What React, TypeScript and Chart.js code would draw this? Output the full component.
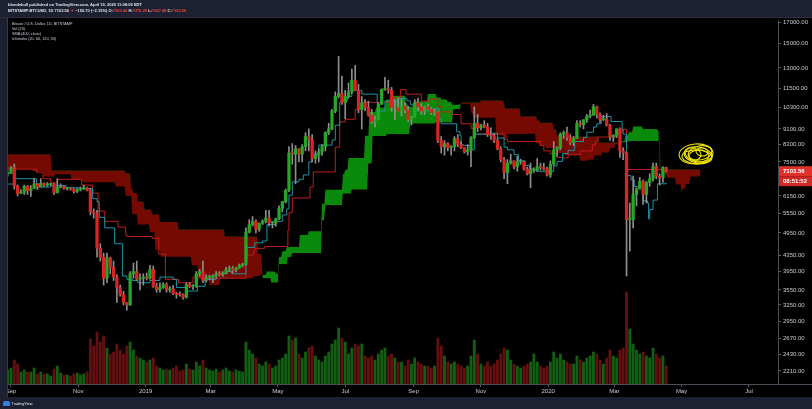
import React, { useEffect, useRef } from 'react';
import { Chart, registerables } from 'chart.js';

Chart.register(...registerables);

// ---- time axis: day 0 = Sep 1, 2018 ----
const firstCandleDay = -3; // Aug 29, 2018
const candleStepDays = 3;
const firstOpen = 6990;

const highs = [
  7120, 7300, 7410, 6560, 6380, 6550, 6530, 6530, 6800, 6620, 6800, 6640, 6650, 6620, 6620, 6800, 6600, 6520, 6460, 6440,
  6420, 6420, 6480, 6550, 6470, 6410, 5700, 5650, 4650, 4400, 4400, 4300, 4200, 3880, 3650, 3520, 3300, 3950, 4150, 4200,
  3900, 3900, 3920, 4100, 4080, 3690, 3700, 3700, 3700, 3620, 3640, 3500, 3510, 3470, 3700, 3700, 3660, 3950, 4000, 4200,
  3880, 3870, 3880, 3950, 3950, 3950, 4050, 4080, 4070, 4050, 4130, 4150, 5100, 5350, 5450, 5350, 5250, 5350, 5650, 5650,
  5300, 5400, 5800, 5950, 6400, 8200, 8350, 8260, 8100, 8300, 8900, 9100, 8800, 8000, 8100, 8300, 8950, 9400, 10200, 11300,
  13900, 12400, 11400, 11900, 12900, 13200, 11800, 11000, 10800, 10700, 10200, 9800, 10600, 11500, 12300, 12100, 11600, 10800, 10900, 10800,
  10600, 10400, 9800, 10800, 10900, 10550, 10400, 10500, 10300, 10200, 10100, 8700, 8500, 8400, 8250, 8700, 8800, 8450, 8150, 8300,
  8700, 10350, 9900, 9350, 9550, 9400, 9150, 8850, 8600, 8200, 7700, 7600, 7850, 7550, 7750, 7620, 7530, 7280, 7450, 7250,
  7650, 7450, 7450, 7280, 7550, 8450, 8200, 8900, 9000, 9200, 8800, 8700, 9550, 9550, 9600, 9900, 10150, 10500, 10400, 10000,
  9850, 9950, 9350, 8800, 9100, 9150, 8150, 7950, 5900, 6900, 6450, 6850, 6750, 6700, 7000, 7450, 7450, 7000, 7300, 7276.2
];
const lows = [
  6900, 7000, 6400, 6150, 6240, 6200, 6200, 6130, 6420, 6380, 6520, 6500, 6500, 6540, 6200, 6250, 6440, 6400, 6360, 6350,
  6250, 6270, 6330, 6380, 6330, 5500, 5400, 4300, 4200, 3650, 3700, 3900, 3750, 3300, 3420, 3250, 3150, 3240, 3800, 3750,
  3550, 3650, 3760, 3780, 3600, 3500, 3500, 3580, 3500, 3500, 3450, 3380, 3420, 3360, 3380, 3590, 3560, 3600, 3850, 3700,
  3720, 3760, 3700, 3820, 3850, 3840, 3900, 3950, 3920, 3940, 4020, 4060, 4100, 4950, 5150, 4950, 5000, 5200, 5250, 5150,
  5100, 5150, 5350, 5600, 5900, 6300, 7400, 6600, 7500, 7500, 8000, 8000, 7500, 7450, 7500, 7800, 8000, 8800, 9050, 10000,
  10900, 10500, 9650, 10900, 11200, 11600, 10000, 9100, 10100, 9800, 9400, 9200, 9600, 10500, 11400, 11200, 10100, 9600, 10100, 9800,
  10000, 9500, 9300, 9750, 10100, 9900, 9900, 10150, 9900, 9850, 8400, 7900, 7800, 8000, 7800, 8000, 8200, 8100, 7900, 7800,
  7300, 8600, 8950, 9050, 9150, 8700, 8550, 8400, 8050, 7500, 6800, 6600, 7400, 7200, 7100, 7400, 7150, 6950, 6450, 7050,
  7100, 7150, 7150, 6900, 6850, 7350, 7750, 8050, 8600, 8500, 8300, 8250, 8600, 9200, 9100, 9450, 9700, 9850, 9700, 9450,
  9550, 9250, 8500, 8450, 8650, 7700, 7600, 3850, 4450, 5100, 5800, 6400, 5850, 5900, 6500, 6700, 6800, 6550, 6650, 7067.48
];
const closes = [
  7010, 7260, 6520, 6240, 6280, 6500, 6340, 6420, 6590, 6480, 6620, 6550, 6580, 6600, 6270, 6460, 6480, 6420, 6420, 6400,
  6310, 6380, 6420, 6450, 6350, 5600, 5560, 4530, 4300, 3800, 4280, 4050, 3830, 3600, 3450, 3300, 3250, 3900, 3950, 3780,
  3800, 3820, 3800, 4000, 3620, 3550, 3600, 3660, 3550, 3570, 3470, 3460, 3450, 3400, 3660, 3620, 3630, 3900, 3950, 3750,
  3820, 3820, 3850, 3900, 3880, 3920, 4000, 4020, 3980, 4030, 4100, 4120, 4980, 5200, 5300, 5050, 5240, 5300, 5400, 5250,
  5250, 5380, 5720, 5950, 6350, 7900, 7850, 8100, 7850, 8200, 8700, 8550, 7650, 7800, 7950, 8200, 8900, 9100, 10100, 11000,
  11200, 10600, 11000, 11300, 12100, 11400, 10200, 10600, 10300, 9850, 9500, 9600, 10500, 11450, 11500, 11400, 10300, 10300, 10100, 10400,
  10150, 9600, 9750, 10600, 10350, 10100, 10350, 10200, 10000, 10050, 8500, 8200, 8350, 8150, 8200, 8600, 8300, 8150, 7950, 8050,
  8650, 9400, 9150, 9300, 9200, 8800, 8750, 8500, 8100, 7600, 7050, 7450, 7550, 7300, 7500, 7500, 7200, 7000, 7150, 7150,
  7300, 7250, 7200, 6950, 7400, 8050, 8150, 8820, 8900, 8650, 8400, 8600, 9400, 9330, 9600, 9800, 9850, 10350, 9900, 9600,
  9650, 9300, 8700, 8750, 9100, 8000, 7900, 5350, 5350, 6200, 6400, 6700, 6200, 6650, 6800, 7300, 6900, 6850, 7260.06, 7103.56
];
const volumes = [
  14, 16, 24, 20, 12, 14, 12, 12, 16, 10, 12, 10, 10, 8, 15, 18, 11, 9, 9, 8, 10, 11, 9, 10, 12,
  45, 38, 52, 42, 48, 36, 30, 32, 40, 34, 30, 38, 42, 34, 28, 26, 24,
  22, 24, 26, 18, 16, 14, 15, 14, 16, 18, 13, 14, 20, 15, 14, 22, 18, 24, 16, 14, 13, 15, 12, 14, 16, 13, 12, 14, 13, 12,
  42, 34, 30, 26, 20, 18, 22, 20, 16, 18, 24, 26, 30,
  48, 44, 46, 30, 26, 32, 36, 38, 28, 24, 22, 28, 32, 40, 44,
  56, 46, 42, 30, 36, 40, 38, 40, 28, 26, 28, 24, 30, 34, 36, 28,
  30, 26, 22, 22, 18, 24, 20, 26, 22, 20, 18, 18, 16, 18,
  46, 38, 28, 22, 20, 22, 20, 18, 16, 18, 28, 44, 30,
  20, 18, 22, 18, 20, 24, 30, 36, 34, 24, 20, 18, 16, 18, 20, 22, 30, 22, 18, 16, 18,
  22, 32, 26, 30, 24, 22, 20, 20, 28, 24, 22, 26, 28, 32, 30, 24, 20, 26, 34, 28, 26, 34, 36,
  92, 55, 40, 34, 30, 32, 28, 26, 36, 30, 26, 28, 18
];

// ---- Ichimoku lines (breakpoints: day, value) ----
const tenkanDays = [-4, 3, 23, 36, 50, 62, 74, 78, 80, 85, 94, 101, 105, 110, 115, 126, 135, 147, 150, 159, 169, 176, 186, 196, 200, 213, 214, 221, 228, 232, 240, 246, 250, 252, 255, 261, 265, 270, 273, 279, 291, 294, 298, 299, 305, 309, 318, 332, 333, 339, 351, 359, 362, 365, 384, 388, 390, 404, 407, 408, 410, 417, 420, 437, 441, 447, 450, 456, 460, 466, 470, 473, 477, 492, 495, 500, 505, 511, 519, 522, 528, 531, 535, 544, 554, 555, 558, 559, 562, 565, 573, 577, 578, 579, 582, 586, 594];
const tenkanVals = [6590, 6800, 6475, 6525, 6450, 6420, 6050, 5950, 5425, 5100, 4650, 3850, 3775, 3750, 3700, 3750, 3825, 3775, 3600, 3525, 3625, 3775, 3900, 3950, 3900, 4400, 4550, 4675, 4725, 5200, 5300, 5500, 5700, 6175, 6675, 6775, 6950, 7500, 7850, 8275, 8525, 9300, 10625, 10750, 11000, 11400, 11150, 10550, 10100, 10700, 10875, 10725, 10475, 10150, 10250, 9650, 9375, 8950, 8750, 8300, 8250, 8050, 8825, 8875, 8625, 8175, 8050, 7825, 7550, 7350, 7200, 7150, 7100, 7325, 7525, 7875, 8025, 8450, 8650, 8925, 9200, 9375, 9775, 9500, 9075, 8825, 7200, 6925, 6750, 6500, 5975, 5900, 5375, 5675, 6000, 6600, 6650];

const kijunDays = [-4, 23, 29, 36, 42, 64, 74, 79, 85, 97, 104, 105, 128, 134, 140, 152, 165, 174, 176, 213, 214, 220, 221, 230, 251, 252, 255, 271, 274, 294, 298, 303, 312, 319, 337, 345, 353, 358, 372, 379, 387, 390, 399, 408, 417, 420, 447, 450, 480, 483, 489, 495, 500, 505, 516, 527, 530, 532, 548, 549, 554, 558, 559, 591, 594];
const kijunVals = [7190, 7065, 6800, 6640, 6775, 6550, 6250, 5625, 5300, 5125, 4900, 4850, 4800, 4375, 3775, 3700, 3825, 3750, 3800, 4200, 4350, 4450, 4525, 4575, 5025, 5575, 6075, 6475, 7075, 8175, 9475, 9625, 10200, 10625, 10650, 10900, 11450, 11150, 10700, 10825, 10350, 10050, 9900, 9375, 9125, 8825, 8575, 8450, 8250, 8000, 7875, 7700, 7675, 7825, 8000, 8300, 8475, 8675, 8700, 8900, 9075, 7450, 7175, 7125, 7075];

const spanADays = [-4, 20, 30, 40, 55, 65, 95, 104, 110, 115, 126, 131, 136, 164, 170, 180, 190, 220, 226, 232, 240, 243, 246, 250, 262, 270, 282, 285, 301, 303, 306, 321, 325, 331, 340, 346, 358, 360, 366, 378, 386, 390, 396, 400, 407, 417, 419, 440, 448, 450, 466, 476, 479, 485, 495, 502, 516, 523, 529, 536, 543, 548, 551, 557, 560, 564, 573, 584, 587, 588, 589, 592, 595, 603, 608, 609, 612, 616, 625];
const spanAVals = [7200, 7100, 6890, 6980, 6780, 6660, 6500, 6150, 5525, 5200, 4975, 4490, 4310, 4100, 3775, 3650, 3800, 3850, 3880, 3950, 3900, 4300, 4450, 4560, 4890, 5000, 5875, 6375, 6990, 7160, 7675, 8740, 10050, 10310, 10800, 11040, 10590, 10360, 10675, 11160, 10940, 10810, 10650, 10475, 10540, 10000, 9710, 8810, 8590, 8825, 8850, 8375, 8250, 8140, 7900, 7800, 7550, 7600, 7790, 7925, 8140, 8325, 8460, 8750, 8925, 9225, 9090, 9075, 8950, 7325, 7050, 6960, 6840, 6575, 6275, 6425, 6590, 6890, 6910];

const spanBDays = [-4, 37, 104, 109, 111, 115, 121, 128, 135, 152, 194, 224, 228, 236, 243, 251, 255, 282, 285, 301, 309, 324, 328, 341, 362, 385, 401, 408, 426, 447, 448, 462, 477, 480, 492, 495, 501, 533, 560, 589, 625];
const spanBVals = [7850, 7130, 7025, 6400, 6250, 5950, 5675, 5525, 5275, 5050, 4850, 4375, 3800, 3700, 4125, 4300, 4400, 5325, 5825, 6225, 6375, 7425, 8725, 8825, 9375, 9450, 10200, 10625, 10750, 10550, 10250, 9800, 9550, 9425, 9075, 8750, 8700, 8400, 8475, 7175, 7175];

// ---- axes ----
const monthTickDays = [0, 61, 122, 181, 242, 303, 365, 426, 487, 547, 608, 669];
const monthTickLabels = ['Sep', 'Nov', '2019', 'Mar', 'May', 'Jul', 'Sep', 'Nov', '2020', 'Mar', 'May', 'Jul'];
const priceTicks = [17000, 15000, 13000, 11500, 10300, 9100, 8300, 7500, 6150, 5550, 4950, 4350, 3950, 3550, 3250, 2950, 2670, 2430, 2210];
const countdown = '08:51:52';

// hand-drawn yellow scribble annotation (center in data units)
const scribbleDay = 621;
const scribblePrice = 7860;
const scribbleLoops = [
  [0, 0, 17, 10, -0.08], [2, 1, 14, 8, 0.15], [3, 2, 10, 6, 0.0], [-3, 0, 8, 6, 0.3],
  [4, -1, 12, 7, -0.2], [6, -2, 6, 4, 0.1], [1, 3, 15, 7, 0.05]
];

const NAVY = '#1c2030';
const AXIS_FONT = '"Liberation Sans", Arial, sans-serif';

// value held by a step series (breakpoint list) on a given day
function stepValueAt(days: number[], vals: number[], d: number) {
  let v = vals[0];
  for (let i = 0; i < days.length; i++) {
    if (days[i] <= d) v = vals[i];
    else break;
  }
  return v;
}

export default function App() {
  const canvasRef = useRef<HTMLCanvasElement | null>(null);

  useEffect(() => {
    const canvas = canvasRef.current;
    if (!canvas) return;

    const candleDays = closes.map((_, i) => firstCandleDay + i * candleStepDays);
    const opens = closes.map((_, i) => (i === 0 ? firstOpen : closes[i - 1]));
    const up = closes.map((c, i) => c >= opens[i]);
    const lastClose = closes[closes.length - 1];

    // daily table of the two (step) cloud spans, for the filler
    const cloudDays: number[] = [];
    for (let d = spanADays[0]; d <= spanADays[spanADays.length - 1]; d++) cloudDays.push(d);

    const panelPlugin = {
      id: 'panel',
      beforeDraw(chart: any) {
        const ctx = chart.ctx;
        ctx.save();
        ctx.fillStyle = '#000000';
        ctx.fillRect(7, 18, 805, 379);
        ctx.restore();
      },
      afterDraw(chart: any) {
        const { ctx, chartArea, scales } = chart;
        ctx.save();
        ctx.fillStyle = NAVY;
        ctx.fillRect(0, 18, 7, 379);
        ctx.strokeStyle = '#363a45';
        ctx.lineWidth = 1;
        ctx.beginPath();
        ctx.moveTo(7.5, 18);
        ctx.lineTo(7.5, 397);
        ctx.stroke();
        ctx.strokeStyle = '#4a4e58';
        ctx.beginPath();
        ctx.moveTo(chartArea.right, Math.round(chartArea.bottom) + 0.5);
        ctx.lineTo(812, Math.round(chartArea.bottom) + 0.5);
        ctx.stroke();

        const cx = scales.x.getPixelForValue(scribbleDay);
        const cy = scales.y.getPixelForValue(scribblePrice);
        ctx.strokeStyle = '#f2e600';
        ctx.lineWidth = 1.1;
        for (const [dx, dy, rx, ry, rot] of scribbleLoops) {
          ctx.beginPath();
          ctx.ellipse(cx + dx, cy + dy, rx, ry, rot, 0, Math.PI * 2);
          ctx.stroke();
        }

        const py = scales.y.getPixelForValue(lastClose);
        const tx = chartArea.right + 1;
        ctx.fillStyle = '#e0302b';
        ctx.fillRect(tx, py - 5, 33, 10);
        ctx.fillStyle = '#cf2a26';
        ctx.fillRect(tx, py + 5, 33, 10);
        ctx.fillStyle = '#ffffff';
        ctx.font = 'bold 6px ' + AXIS_FONT;
        ctx.textBaseline = 'middle';
        ctx.textAlign = 'left';
        ctx.fillText(lastClose.toFixed(2), tx + 4, py + 0.5);
        ctx.fillText(countdown, tx + 4, py + 10.5);
        ctx.restore();
      }
    };

    const chart = new Chart(canvas, {
      type: 'bar',
      data: {
        datasets: [
          {
            type: 'bar',
            label: 'Volume',
            yAxisID: 'yv',
            data: volumes.map((v, i) => ({ x: candleDays[i], y: v })) as any,
            backgroundColor: volumes.map((_, i) => (up[i] ? '#125e12' : '#641010')),
            barThickness: 2.2,
            grouped: false,
            order: 10
          } as any,
          {
            type: 'line',
            label: 'Lead 2',
            yAxisID: 'y',
            data: cloudDays.map((d) => ({ x: d, y: stepValueAt(spanBDays, spanBVals, d) })),
            borderColor: 'rgba(0,0,0,0)',
            borderWidth: 1,
            pointRadius: 0,
            fill: false,
            order: 9
          } as any,
          {
            type: 'line',
            label: 'Lead 1',
            yAxisID: 'y',
            data: cloudDays.map((d) => ({ x: d, y: stepValueAt(spanADays, spanAVals, d) })),
            borderColor: 'rgba(0,0,0,0)',
            borderWidth: 1,
            pointRadius: 0,
            fill: { target: 1, above: '#0a8a0a', below: '#740a02' },
            order: 8
          } as any,
          {
            type: 'line',
            label: 'Base Line',
            yAxisID: 'y',
            data: kijunDays.map((d, i) => ({ x: d, y: kijunVals[i] })),
            borderColor: '#c21d1d',
            borderWidth: 1,
            pointRadius: 0,
            stepped: 'before',
            fill: false,
            order: 5
          } as any,
          {
            type: 'line',
            label: 'Conversion Line',
            yAxisID: 'y',
            data: tenkanDays.map((d, i) => ({ x: d, y: tenkanVals[i] })),
            borderColor: '#2391a6',
            borderWidth: 1,
            pointRadius: 0,
            stepped: 'before',
            fill: false,
            order: 4
          } as any,
          {
            type: 'bar',
            label: 'Wicks',
            yAxisID: 'y',
            data: closes.map((_, i) => ({ x: candleDays[i], y: [lows[i], highs[i]] })) as any,
            backgroundColor: '#8e8e8e',
            barThickness: 1,
            grouped: false,
            order: 2
          } as any,
          {
            type: 'bar',
            label: 'Bodies',
            yAxisID: 'y',
            data: closes.map((c, i) => ({ x: candleDays[i], y: [opens[i], c] })) as any,
            backgroundColor: closes.map((_, i) => (up[i] ? '#25a825' : '#dc2424')),
            barThickness: 2.6,
            minBarLength: 1,
            grouped: false,
            order: 1
          } as any
        ]
      },
      options: {
        responsive: false,
        animation: false,
        devicePixelRatio: 1,
        events: [],
        layout: { padding: { left: 7, top: 20, right: 0, bottom: 12 } },
        plugins: {
          legend: { display: false },
          tooltip: { enabled: false }
        },
        scales: {
          x: {
            type: 'linear',
            position: 'bottom',
            offset: false,
            bounds: 'data',
            min: -3.6,
            max: 695.3,
            grid: { display: true, offset: false, drawOnChartArea: false, drawTicks: true, tickLength: 3, color: '#5a5e68' },
            border: { display: true, color: '#4a4e58' },
            ticks: {
              color: '#c9ccd3',
              font: { size: 6, family: AXIS_FONT },
              padding: 1,
              autoSkip: false,
              maxRotation: 0,
              callback: (_v: any, index: number) => monthTickLabels[index]
            },
            afterBuildTicks: (scale: any) => {
              scale.ticks = monthTickDays.map((v) => ({ value: v }));
            },
            afterFit: (scale: any) => {
              scale.height = 13;
            }
          },
          y: {
            type: 'logarithmic',
            position: 'right',
            bounds: 'data',
            min: 2047,
            max: 17200,
            grid: { display: true, drawOnChartArea: false, drawTicks: true, tickLength: 3, color: '#5a5e68' },
            border: { display: true, color: '#4a4e58' },
            ticks: {
              color: '#c9ccd3',
              font: { size: 6, family: AXIS_FONT },
              padding: 2,
              autoSkip: false,
              callback: (v: any) => Number(v).toFixed(2)
            },
            afterBuildTicks: (scale: any) => {
              scale.ticks = priceTicks.map((v) => ({ value: v }));
            },
            afterFit: (scale: any) => {
              scale.width = 34;
            }
          },
          yv: {
            type: 'linear',
            display: false,
            min: 0,
            max: 364
          }
        }
      } as any,
      plugins: [panelPlugin]
    });

    return () => chart.destroy();
  }, []);

  const red = { color: '#f0443c' };

  return (
    <div
      style={{
        position: 'fixed',
        left: 0,
        top: 0,
        width: 812,
        height: 409,
        background: NAVY,
        overflow: 'hidden',
        fontFamily: '"Liberation Sans", Arial, sans-serif'
      }}
    >
      <canvas ref={canvasRef} width={812} height={409} style={{ position: 'absolute', left: 0, top: 0 }} />
      <div style={{ position: 'absolute', left: 0, top: 17, width: 812, height: 1, background: '#2c3040' }} />
      <div
        style={{
          position: 'absolute',
          left: 8,
          top: 2,
          fontSize: 4,
          lineHeight: '5.5px',
          color: '#dfe2ea',
          fontWeight: 'bold',
          whiteSpace: 'nowrap'
        }}
      >
        <div>blondebull published on TradingView.com, April 19, 2020 11:08:09 EDT</div>
        <div>
          BITSTAMP:BTCUSD, 1D 7103.56 <span style={red}>▼</span> −155.70 (−2.15%) O:<span style={red}>7260.06</span> H:
          <span style={red}>7276.20</span> L:<span style={red}>7067.48</span> C:<span style={red}>7103.56</span>
        </div>
      </div>
      <div
        style={{
          position: 'absolute',
          left: 12,
          top: 22,
          fontSize: 3.8,
          lineHeight: '5px',
          color: '#cfd2da',
          whiteSpace: 'nowrap'
        }}
      >
        <div>Bitcoin / U.S. Dollar, 1D, BITSTAMP</div>
        <div>Vol (20)</div>
        <div>SMA (400, close)</div>
        <div>Ichimoku (20, 60, 120, 30)</div>
      </div>
      <div
        style={{
          position: 'absolute',
          left: 3,
          top: 400,
          height: 7,
          display: 'flex',
          alignItems: 'center',
          gap: 1.5,
          whiteSpace: 'nowrap'
        }}
      >
        <span
          style={{ display: 'inline-block', width: 7, height: 5, background: '#2f7fe6', borderRadius: '2px 2px 1px 1px' }}
        />
        <span style={{ fontSize: 3.8, color: '#e6e8ee' }}>TradingView</span>
      </div>
    </div>
  );
}
